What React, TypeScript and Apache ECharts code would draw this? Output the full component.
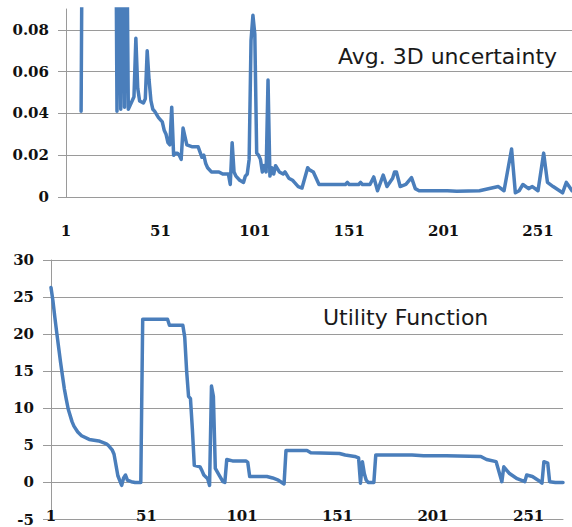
import React, { useEffect, useRef } from "react";
import * as echarts from "echarts";

const POINT_COUNT = 269;
const categories: string[] = Array.from({ length: POINT_COUNT }, (_, k) => String(k + 1));

// [category number, value]
const uncertaintyPoints: [number, number][] = [
  [9, 0.041], [10, 0.2], [27, 0.2], [28, 0.041], [29, 0.15], [30, 0.042], [31, 0.15], [32, 0.043],
  [33, 0.15], [34, 0.042], [36, 0.046], [37, 0.048], [38, 0.076], [39, 0.052], [40, 0.046],
  [42, 0.045], [43, 0.047], [44, 0.07], [45, 0.056], [46, 0.046], [47, 0.042], [48, 0.041],
  [50, 0.038], [52, 0.036], [53, 0.032], [54, 0.03], [55, 0.026], [56, 0.025], [57, 0.043],
  [58, 0.02], [59, 0.021], [60, 0.021], [61, 0.02], [62, 0.018], [63, 0.033], [65, 0.025],
  [68, 0.024], [71, 0.024], [73, 0.019], [74, 0.02], [75, 0.016], [76, 0.014], [78, 0.012],
  [82, 0.012], [84, 0.011], [87, 0.011], [88, 0.006], [89, 0.026], [90, 0.012], [91, 0.01],
  [93, 0.008], [95, 0.007], [96, 0.01], [97, 0.011], [98, 0.018], [99, 0.075], [100, 0.087],
  [101, 0.078], [102, 0.021], [103, 0.02], [104, 0.018], [105, 0.012], [106, 0.015], [107, 0.012],
  [108, 0.056], [109, 0.01], [110, 0.014], [111, 0.011], [112, 0.015], [114, 0.012], [116, 0.011],
  [117, 0.012], [119, 0.009], [121, 0.008], [122, 0.007], [124, 0.005], [126, 0.0043], [129, 0.014],
  [130, 0.013], [132, 0.012], [135, 0.006], [141, 0.006], [149, 0.006], [150, 0.007], [151, 0.006],
  [156, 0.006], [157, 0.007], [158, 0.006], [162, 0.006], [164, 0.0096], [166, 0.003], [169, 0.0105],
  [171, 0.005], [174, 0.009], [175, 0.012], [176, 0.012], [178, 0.005], [181, 0.006], [184, 0.0093],
  [186, 0.004], [188, 0.003], [203, 0.003], [208, 0.0028], [220, 0.003], [230, 0.005], [233, 0.003],
  [237, 0.023], [239, 0.002], [241, 0.003], [243, 0.006], [246, 0.004], [248, 0.005], [251, 0.003],
  [254, 0.021], [256, 0.007], [259, 0.005], [264, 0.002], [266, 0.007], [269, 0.003],
];

const utilityPoints: [number, number][] = [
  [1, 26.3], [2, 24.5], [3, 22.3], [4, 20.2], [5, 18.2], [6, 16.2], [7, 14.4], [8, 12.6], [9, 11.2],
  [10, 9.9], [12, 8.2], [13, 7.6], [15, 6.8], [17, 6.3], [21, 5.8], [26, 5.6], [30, 5.2], [31, 5.0],
  [33, 4.4], [34, 3.8], [36, 0.9], [38, -0.4], [39, 0.6], [40, 1.0], [41, 0.3], [43, 0.1], [45, 0],
  [48, 0], [49, 22], [62, 22], [63, 21.2], [70, 21.2], [71, 19.6], [72, 15], [73, 11.6], [74, 11.3],
  [75, 7.2], [76, 2.3], [79, 2.1], [80, 1.6], [81, 1.0], [83, 0.5], [84, -0.4], [85, 13], [86, 11.6],
  [87, 1.9], [89, 1.0], [91, 0.1], [92, 0], [93, 3.1], [96, 2.9], [103, 2.9], [104, 2.7], [105, 0.8],
  [114, 0.8], [117, 0.6], [120, 0.3], [123, -0.2], [124, 4.3], [135, 4.3], [137, 4.0], [152, 3.9],
  [155, 3.7], [160, 3.5], [162, 3.3], [163, -0.1], [164, 2.8], [165, 1.2], [166, 0.3], [167, 0],
  [170, 0], [171, 3.7], [190, 3.7], [196, 3.6], [208, 3.6], [226, 3.5], [229, 3.1], [234, 2.8],
  [237, 0.1], [238, 2.1], [241, 1.2], [245, 0.5], [249, 0.1], [250, 1.0], [253, 0.8], [256, 0.3],
  [258, -0.1], [259, 2.8], [261, 2.6], [262, 0.1], [265, 0], [269, 0],
];

const uncertaintyTicks = [0, 0.02, 0.04, 0.06, 0.08];
const utilityTicks = [-5, 0, 5, 10, 15, 20, 25, 30];

const toSeries = (pts: [number, number][]) => {
  const arr: (number | null)[] = categories.map(() => null);
  pts.forEach(([i, v]) => {
    arr[i - 1] = v;
  });
  return arr;
};

const GRID = "#9a9a9a";
const LINE = "#4A7EBB";
const tickFont = {
  fontFamily: "DejaVu Serif",
  fontWeight: "bold" as const,
  fontSize: 15,
  color: "#111",
};

export default function App() {
  const ref = useRef<HTMLDivElement>(null);
  useEffect(() => {
    if (!ref.current) return;
    const chart = echarts.init(ref.current, undefined, { renderer: "svg" });
    const option: any = {
      animation: false,
      backgroundColor: "#fff",
      title: [
        {
          text: "Avg. 3D uncertainty",
          left: 338,
          top: 45,
          padding: 0,
          textStyle: { fontFamily: "DejaVu Sans", fontSize: 22, fontWeight: "normal", color: "#1a1a1a" },
        },
        {
          text: "Utility Function",
          left: 323,
          top: 306,
          padding: 0,
          textStyle: { fontFamily: "DejaVu Sans", fontSize: 22, fontWeight: "normal", color: "#1a1a1a" },
        },
      ],
      grid: [
        { left: 66, right: 0, top: 9, height: 188 },
        { left: 51, right: 9, top: 260, height: 261 },
      ],
      xAxis: [0, 1].map((g) => ({
        gridIndex: g,
        type: "category",
        data: categories,
        boundaryGap: false,
        axisLine: { show: true, onZero: false, lineStyle: { color: GRID, width: 1 } },
        axisTick: { show: false },
        splitLine: { show: false },
        axisLabel: { ...tickFont, interval: 49, margin: g === 0 ? 26 : -11, hideOverlap: false },
      })),
      yAxis: [
        {
          gridIndex: 0,
          type: "value",
          min: uncertaintyTicks[0],
          max: 0.09,
          interval: 0.02,
          axisLine: { show: true, lineStyle: { color: GRID } },
          axisTick: { show: true, length: 8, lineStyle: { color: GRID } },
          splitLine: { show: true, showMaxLine: false, lineStyle: { color: GRID } },
          axisLabel: {
            ...tickFont,
            margin: 17,
            showMaxLabel: false,
            formatter: (v: number) => (Math.abs(v) < 1e-9 ? "0" : v.toFixed(2)),
          },
        },
        {
          gridIndex: 1,
          type: "value",
          min: utilityTicks[0],
          max: utilityTicks[utilityTicks.length - 1],
          interval: 5,
          axisLine: { show: true, lineStyle: { color: GRID } },
          axisTick: { show: true, length: 8, lineStyle: { color: GRID } },
          splitLine: { show: true, lineStyle: { color: GRID } },
          axisLabel: { ...tickFont, margin: 17 },
        },
      ],
      series: [
        {
          type: "line",
          name: "Avg. 3D uncertainty",
          xAxisIndex: 0,
          yAxisIndex: 0,
          data: toSeries(uncertaintyPoints),
          connectNulls: true,
          showSymbol: false,
          symbol: "none",
          clip: true,
          lineStyle: { color: LINE, width: 3.5, join: "round", cap: "round" },
        },
        {
          type: "line",
          name: "Utility Function",
          xAxisIndex: 1,
          yAxisIndex: 1,
          data: toSeries(utilityPoints),
          connectNulls: true,
          showSymbol: false,
          symbol: "none",
          clip: true,
          lineStyle: { color: LINE, width: 3.5, join: "round", cap: "round" },
        },
      ],
    };
    chart.setOption(option);
    return () => chart.dispose();
  }, []);
  return (
    <div
      ref={ref}
      style={{ position: "fixed", left: 0, top: 0, width: 572, height: 527, background: "#fff" }}
    />
  );
}
